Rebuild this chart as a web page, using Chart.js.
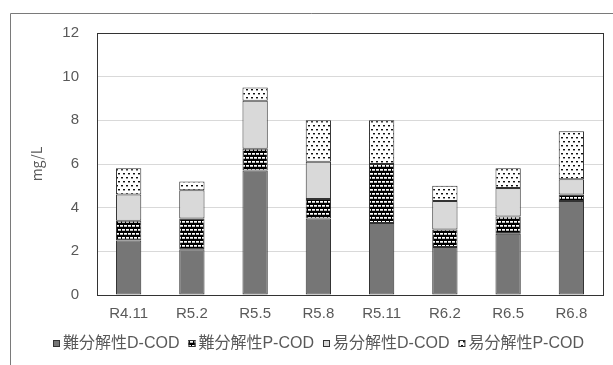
<!DOCTYPE html>
<html>
<head>
<meta charset="utf-8">
<script src="https://cdn.jsdelivr.net/npm/chart.js@4/dist/chart.umd.min.js"></script>
<style>
  html, body { margin: 0; padding: 0; background: #fff; }
  #wrap { width: 613px; height: 365px; position: relative; }
</style>
</head>
<body>
<div id="wrap"><canvas id="c" width="613" height="365"></canvas></div>
<script>
// Sampling periods
const categories = ['R4.11', 'R5.2', 'R5.5', 'R5.8', 'R5.11', 'R6.2', 'R6.5', 'R6.8'];

// COD fractions (mg/L)
const refractoryDCOD = [2.5, 2.1, 5.7, 3.5, 3.3, 2.2, 2.8, 4.3];
const refractoryPCOD = [0.9, 1.4, 1.0, 0.9, 2.7, 0.8, 0.8, 0.3];
const labileDCOD     = [1.2, 1.3, 2.2, 1.7, 0.0, 1.3, 1.3, 0.7];
const labilePCOD     = [1.2, 0.4, 0.6, 1.9, 2.0, 0.7, 0.9, 2.2];

const seriesNames = ['難分解性D-COD', '難分解性P-COD', '易分解性D-COD', '易分解性P-COD'];
const yTicks = [0, 2, 4, 6, 8, 10, 12];

const FONT = '"Liberation Sans", "Noto Sans CJK JP", sans-serif';
const TEXT = '#595959';

// Black fill with rows of white dashes
function brickPattern() {
  const c = document.createElement('canvas');
  c.width = 8; c.height = 8;
  const g = c.getContext('2d');
  g.fillStyle = '#000'; g.fillRect(0, 0, 8, 8);
  g.fillStyle = '#fff';
  g.fillRect(0, 1, 3, 1); g.fillRect(4, 1, 3, 1);
  g.fillRect(2, 5, 3, 1); g.fillRect(6, 5, 2, 1); g.fillRect(0, 5, 1, 1);
  g.fillStyle = '#bbb';
  g.fillRect(0, 2, 3, 1); g.fillRect(4, 2, 3, 1);
  g.fillRect(2, 6, 3, 1); g.fillRect(6, 6, 2, 1); g.fillRect(0, 6, 1, 1);
  return g.createPattern(c, 'repeat');
}
// White fill with small dark dots
function dotPattern() {
  const c = document.createElement('canvas');
  c.width = 10; c.height = 8;
  const g = c.getContext('2d');
  g.fillStyle = '#fff'; g.fillRect(0, 0, 10, 8);
  g.fillStyle = '#111';
  g.fillRect(1, 1, 2, 1); g.fillRect(6, 1, 2, 1);
  g.fillRect(3, 5, 2, 1); g.fillRect(8, 5, 2, 1);
  g.fillStyle = '#999';
  g.fillRect(1, 2, 2, 1); g.fillRect(6, 2, 2, 1);
  g.fillRect(3, 6, 2, 1); g.fillRect(8, 6, 2, 1);
  return g.createPattern(c, 'repeat');
}

const fills = ['#767676', brickPattern(), '#d9d9d9', dotPattern()];
const values = [refractoryDCOD, refractoryPCOD, labileDCOD, labilePCOD];

// Outer chart frame and plot-area box
const frames = {
  id: 'frames',
  beforeDraw(chart) {
    const g = chart.ctx;
    g.save();
    g.strokeStyle = '#7a7a7a';
    g.lineWidth = 1;
    g.beginPath();
    g.moveTo(10.5, 365); g.lineTo(10.5, 13.5); g.lineTo(613, 13.5);
    g.stroke();
    g.restore();
  },
  afterDatasetsDraw(chart) {
    const a = chart.chartArea, g = chart.ctx;
    g.save();
    g.strokeStyle = '#333';
    g.lineWidth = 1;
    g.strokeRect(Math.round(a.left) + 0.5, Math.round(a.top) + 0.5,
                 Math.round(a.right - a.left), Math.round(a.bottom - a.top));
    g.restore();
  }
};

// Compact legend row below the x axis: small square swatch right before each label
const compactLegend = {
  id: 'compactLegend',
  afterDraw(chart, args, opts) {
    const g = chart.ctx;
    const sets = chart.data.datasets;
    const box = 7, gap = 3, spacing = 9;
    g.save();
    g.font = '16px ' + FONT;
    g.textBaseline = 'middle';
    const widths = sets.map(d => g.measureText(d.label).width);
    const total = widths.reduce((s, w) => s + box + gap + w, 0) + spacing * (sets.length - 1);
    let x = Math.round(opts.centerX - total / 2);
    const y = opts.y;
    sets.forEach((d, i) => {
      g.fillStyle = d.backgroundColor;
      g.fillRect(x, y - 4, box, box);
      g.strokeStyle = '#333';
      g.lineWidth = 1;
      g.strokeRect(x + 0.5, y - 3.5, box - 1, box - 1);
      g.fillStyle = TEXT;
      g.fillText(d.label, x + box + gap, y);
      x += box + gap + widths[i] + spacing;
    });
    g.restore();
  }
};

new Chart(document.getElementById('c'), {
  type: 'bar',
  data: {
    labels: categories,
    datasets: seriesNames.map((name, i) => ({
      label: name,
      data: values[i],
      backgroundColor: fills[i],
      borderColor: '#333',
      borderWidth: 1,
      borderSkipped: false,
      categoryPercentage: 1,
      barPercentage: 0.4
    }))
  },
  options: {
    responsive: false,
    animation: false,
    layout: { padding: { left: 28, right: 10, top: 33, bottom: 40 } },
    plugins: {
      legend: { display: false },
      tooltip: { enabled: false },
      compactLegend: { centerX: 318, y: 344 }
    },
    scales: {
      x: {
        stacked: true,
        afterFit(s) { s.height = 30; },
        grid: { display: false, drawTicks: false },
        border: { display: false },
        ticks: { color: TEXT, font: { family: FONT, size: 15 }, padding: 10 }
      },
      y: {
        stacked: true,
        min: 0, max: 12,
        afterBuildTicks(s) { s.ticks = yTicks.map(v => ({ value: v })); },
        afterFit(s) { s.width = 69; },
        grid: { color: '#d9d9d9', drawTicks: false },
        border: { display: false },
        ticks: { color: TEXT, font: { family: FONT, size: 15 }, padding: 18 },
        title: { display: true, text: 'mg/L', color: TEXT, font: { family: '"Noto Sans CJK JP", sans-serif', size: 14 }, padding: 0 }
      }
    }
  },
  plugins: [frames, compactLegend]
});
</script>
</body>
</html>
